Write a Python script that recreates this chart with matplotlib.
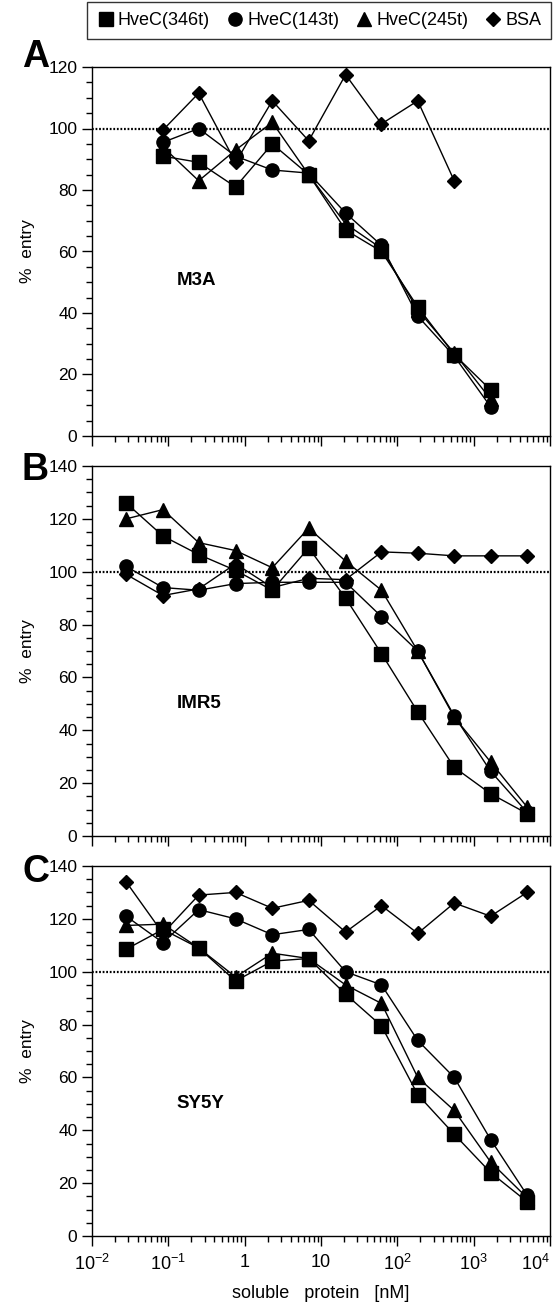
import matplotlib
matplotlib.use("Agg")
import matplotlib.pyplot as plt
from matplotlib.lines import Line2D
from matplotlib.ticker import LogLocator, NullFormatter, MultipleLocator

plt.rcParams['font.family'] = ['Liberation Sans', 'DejaVu Sans']
plt.rcParams['mathtext.fontset'] = 'custom'
plt.rcParams['mathtext.rm'] = 'Liberation Sans'

# concentrations (nM), 3-fold dilution series
conc = [0.028, 0.085, 0.25, 0.76, 2.3, 6.9, 21, 62, 185, 556, 1667, 5000]

# panel A (M3A) - starts at 0.085
sq_A = [91, 89, 81, 95, 85, 67, 60, 42, 26.5, 15]
ci_A = [95.5, 100, 91, 86.5, 85.5, 72.5, 62, 39, 26, 9.5]
tr_A = [94, 83, 93, 102, 85, 69, 61, 41, 27, 12]
di_A = [99.5, 111.5, 89, 109, 96, 117.5, 101.5, 109, 83]

# panel B (IMR5)
sq_B = [126, 113.5, 106.5, 100.5, 93, 109, 90, 69, 47, 26, 16, 8.5]
ci_B = [102, 94, 93, 95.5, 96, 96, 96, 83, 70, 45.5, 24.5, 9]
tr_B = [120, 123.5, 111, 108, 101.5, 116.5, 104, 93, 70, 45, 28, 11]
di_B = [99, 91, 93.5, 103, 94, 97.5, 97, 107.5, 107, 106, 106, 106]

# panel C (SY5Y)
sq_C = [108.5, 116, 109, 96.5, 104, 105, 91.5, 79.5, 53.5, 38.5, 24, 13]
ci_C = [121, 111, 123.5, 120, 114, 116, 100, 95, 74, 60, 36.5, 15.5]
tr_C = [117.5, 118, 109, 98, 107, 105, 95, 88, 60, 47.5, 28, 14.5]
di_C = [134, 114.5, 129, 130, 124, 127, 115, 125, 114.5, 126, 121, 130]

labels = ["HveC(346t)", "HveC(143t)", "HveC(245t)", "BSA"]
markers = ["s", "o", "^", "D"]
msizes = [9.5, 9.5, 9.5, 7.5]

panels = [
    ("A", "M3A", 120, 0.41, [(1, sq_A), (1, ci_A), (1, tr_A), (1, di_A)]),
    ("B", "IMR5", 140, 0.345, [(0, sq_B), (0, ci_B), (0, tr_B), (0, di_B)]),
    ("C", "SY5Y", 140, 0.345, [(0, sq_C), (0, ci_C), (0, tr_C), (0, di_C)]),
]

W, H = 554, 1308
fig = plt.figure(figsize=(W / 100, H / 100), dpi=100)

left, right = 92, 550
tops = [67, 466, 866]
bottoms = [436, 836, 1236]
letter_y = [57, 470, 872]

for i, (letter, cell, ymax, ylab, series) in enumerate(panels):
    ax = fig.add_axes([left / W, 1 - bottoms[i] / H, (right - left) / W, (bottoms[i] - tops[i]) / H])
    for (start, vals), m, ms in zip(series, markers, msizes):
        xs = conc[start:start + len(vals)]
        ax.plot(xs, vals, color='black', lw=1.0, marker=m, ms=ms,
                markerfacecolor='black', markeredgecolor='black', zorder=3)
    ax.axhline(100, color='black', lw=1.6, ls=(0, (0.8, 0.8)), zorder=2)
    ax.set_xscale('log')
    ax.set_xlim(1e-2, 1e4)
    ax.set_ylim(0, ymax)
    ax.yaxis.set_major_locator(MultipleLocator(20))
    ax.yaxis.set_minor_locator(MultipleLocator(5))
    ax.xaxis.set_major_locator(LogLocator(base=10, numticks=10))
    ax.xaxis.set_minor_locator(LogLocator(base=10, subs=range(2, 10), numticks=20))
    ax.xaxis.set_minor_formatter(NullFormatter())
    ax.tick_params(axis='both', which='major', direction='out', length=7, width=1, labelsize=12.5)
    ax.tick_params(axis='both', which='minor', direction='out', length=4, width=1)
    for s in ax.spines.values():
        s.set_linewidth(1)
    ax.set_ylabel("%  entry", fontsize=12.5, labelpad=10)
    ax.text(0.185, ylab, cell, transform=ax.transAxes, fontsize=13.5, fontweight='bold')
    fig.text(22 / W, 1 - letter_y[i] / H, letter, fontsize=27, fontweight='bold', va='center')
    if i < 2:
        ax.set_xticklabels([])
    else:
        ax.set_xticks([1e-2, 1e-1, 1, 10, 1e2, 1e3, 1e4])
        ax.set_xticklabels([r'$\mathregular{10^{-2}}$', r'$\mathregular{10^{-1}}$', '1', '10',
                            r'$\mathregular{10^{2}}$', r'$\mathregular{10^{3}}$', r'$\mathregular{10^{4}}$'])
        ax.tick_params(axis='x', which='major', labelsize=13, pad=6)
        ax.get_xticklabels()[-1].set_horizontalalignment('right')
        ax.set_xlabel("soluble   protein   [nM]", fontsize=13, labelpad=8)

handles = [Line2D([], [], ls='none', marker=m, ms=ms, color='black') for m, ms in zip(markers, msizes)]
leg = fig.legend(handles, labels, loc='upper right', bbox_to_anchor=(551 / W, 1 - 2 / H),
                 ncol=4, fontsize=13, frameon=True, fancybox=False, handletextpad=0.15,
                 columnspacing=0.9, handlelength=1.0, borderpad=0.55, borderaxespad=0)
leg.get_frame().set_edgecolor('black')
leg.get_frame().set_linewidth(1)

fig.savefig("out.png", dpi=100)
